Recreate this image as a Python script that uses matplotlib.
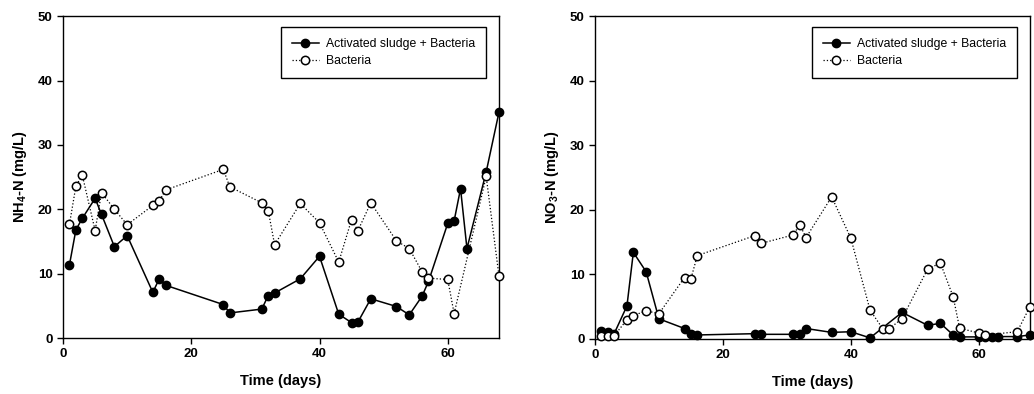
import matplotlib
matplotlib.use("Agg")
import matplotlib.pyplot as plt

plt.rcParams["font.family"] = ["Liberation Sans", "DejaVu Sans"]
plt.rcParams["mathtext.default"] = "regular"

# NH4-N panel
nh4_days_as = [1, 2, 3, 5, 6, 8, 10, 14, 15, 16, 25, 26, 31, 32, 33, 37, 40,
               43, 45, 46, 48, 52, 54, 56, 57, 60, 61, 62, 63, 66, 68]
nh4_as = [11.4, 16.8, 18.6, 21.7, 19.2, 14.2, 15.9, 7.1, 9.2, 8.2, 5.2, 3.9,
          4.5, 6.6, 7.0, 9.2, 12.7, 3.7, 2.4, 2.5, 6.1, 4.9, 3.6, 6.5, 8.8,
          17.8, 18.2, 23.2, 13.9, 25.8, 35.1]
nh4_days_b = [1, 2, 3, 5, 6, 8, 10, 14, 15, 16, 25, 26, 31, 32, 33, 37, 40,
              43, 45, 46, 48, 52, 54, 56, 57, 60, 61, 66, 68]
nh4_b = [17.7, 23.6, 25.3, 16.7, 22.6, 20.0, 17.6, 20.6, 21.3, 23.0, 26.2,
         23.5, 21.0, 19.8, 14.5, 20.9, 17.9, 11.8, 18.4, 16.7, 21.0, 15.1,
         13.9, 10.3, 9.3, 9.1, 3.8, 25.1, 9.6]

# NO3-N panel
no3_days_as = [1, 2, 3, 5, 6, 8, 10, 14, 15, 16, 25, 26, 31, 32, 33, 37, 40,
               43, 48, 52, 54, 56, 57, 60, 61, 62, 63, 66, 68]
no3_as = [1.2, 1.0, 0.8, 5.1, 13.4, 10.4, 3.1, 1.6, 0.7, 0.6, 0.8, 0.7, 0.7,
          0.75, 1.6, 1.0, 1.1, 0.15, 4.1, 2.1, 2.4, 0.6, 0.3, 0.3, 0.3, 0.35,
          0.35, 0.35, 0.6]
no3_days_b = [1, 2, 3, 5, 6, 8, 10, 14, 15, 16, 25, 26, 31, 32, 33, 37, 40,
              43, 45, 46, 48, 52, 54, 56, 57, 60, 61, 66, 68]
no3_b = [0.5, 0.5, 0.5, 2.95, 3.6, 4.35, 3.9, 9.5, 9.3, 12.9, 16.0, 14.8,
         16.1, 17.7, 15.7, 22.0, 15.6, 4.45, 1.55, 1.55, 3.15, 10.8, 11.75,
         6.5, 1.65, 0.9, 0.6, 1.1, 5.0]

panels = [
    (nh4_days_as, nh4_as, nh4_days_b, nh4_b, "NH$_4$-N (mg/L)", [0.061, 0.142, 0.4216, 0.817]),
    (no3_days_as, no3_as, no3_days_b, no3_b, "NO$_3$-N (mg/L)", [0.5754, 0.140, 0.4207, 0.819]),
]

fig = plt.figure(figsize=(10.34, 3.94), dpi=100)

for xa, ya, xb, yb, ylab, pos in panels:
    ax = fig.add_axes(pos)
    ax.plot(xa, ya, color="black", lw=1.1, marker="o", ms=6,
            mfc="black", mec="black", clip_on=False, zorder=3,
            label="Activated sludge + Bacteria")
    ax.plot(xb, yb, color="black", lw=0.9, ls=":", marker="o", ms=6,
            mfc="white", mec="black", mew=1.1, clip_on=False, zorder=4,
            label="Bacteria")
    ax.set_xlim(0, 68)
    ax.set_ylim(0, 50)
    ax.set_xticks([0, 20, 40, 60])
    ax.set_yticks([0, 10, 20, 30, 40, 50])
    ax.tick_params(direction="out", length=4, width=1, labelsize=9.5)
    for lbl in ax.get_xticklabels() + ax.get_yticklabels():
        lbl.set_fontweight("bold")
    ax.set_xlabel("Time (days)", fontsize=10.5, fontweight="bold", labelpad=10)
    ax.set_ylabel(ylab, fontsize=10.5, fontweight="bold", labelpad=6)
    for s in ax.spines.values():
        s.set_linewidth(1.0)
    leg = ax.legend(loc="upper right", bbox_to_anchor=(0.985, 0.985),
                    fontsize=8.8, frameon=True, fancybox=False,
                    edgecolor="black", framealpha=1, borderpad=0.9,
                    handlelength=2.2, handletextpad=0.6, labelspacing=0.4)
    leg.get_frame().set_linewidth(1.0)

plt.savefig("out.png", dpi=100)
plt.close()
